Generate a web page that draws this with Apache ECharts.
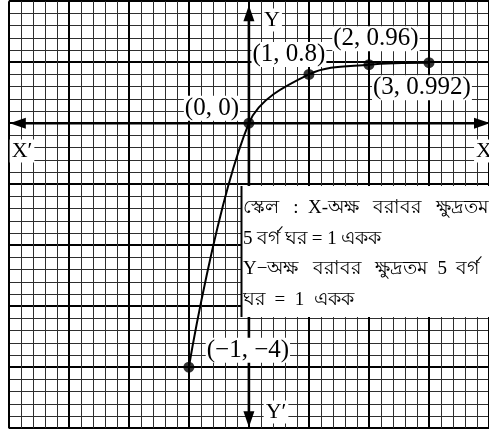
<!DOCTYPE html>
<html>
<head>
<meta charset="utf-8">
<script src="https://cdn.jsdelivr.net/npm/echarts@6/dist/echarts.min.js"></script>
<style>
  html, body { margin: 0; padding: 0; background: #fff; }
  #chart { width: 489px; height: 432px; }
</style>
</head>
<body>
<div id="chart"></div>
<script>
// Points of the curve y = f(x)
const xValues = [-1, 0, 1, 2, 3];
const yValues = [-4, 0, 0.8, 0.96, 0.992];

// Extent of the graph paper in axis units
const xRange = [-4, 4];
const yRange = [-5, 2];

// Axis names
const axisNames = ['X′', 'X', 'Y', 'Y′'];

// Scale note
const scaleLines = [
  'স্কেল   :  X-অক্ষ   বরাবর   ক্ষুদ্রতম',
  '5 বর্গ ঘর = 1 একক',
  'Y−অক্ষ   বরাবর   ক্ষুদ্রতম  5  বর্গ',
  'ঘর  =  1  একক'
];

const SERIF = "'Liberation Serif', 'DejaVu Serif', 'Noto Sans', serif";

// label offsets (px) around each point, same order as xValues
const labelOffsets = [[59, -17], [-37, -15], [-20, -20], [7, -26], [-7, 25]];

const fmt = v => String(v).replace('-', '−');

const chart = echarts.init(document.getElementById('chart'), null, { renderer: 'canvas' });

const pointData = xValues.map((x, i) => ({
  value: [x, yValues[i]],
  label: { offset: labelOffsets[i] }
}));

const paperAxis = {
  type: 'value',
  interval: 1,
  axisLine: { show: false },
  axisTick: { show: false },
  axisLabel: { show: false },
  splitLine: { show: true, lineStyle: { color: '#000', width: 2 } },
  minorTick: { show: false, splitNumber: 5 },
  minorSplitLine: { show: true, lineStyle: { color: '#2e2e2e', width: 1 } }
};

const option = {
  backgroundColor: '#fff',
  animation: false,
  grid: { left: 8.8, right: -7.8, top: 1.2, bottom: 3.8, containLabel: false },
  xAxis: Object.assign({}, paperAxis, { min: xRange[0], max: xRange[1] }),
  yAxis: Object.assign({}, paperAxis, { min: yRange[0], max: yRange[1] }),
  series: [
    {
      // coordinate axes with arrows
      type: 'custom',
      z: 3,
      silent: true,
      clip: false,
      data: [[0, 0]],
      renderItem: function (params, api) {
        const o = api.coord([0, 0]);
        const left = api.coord([xRange[0], 0])[0] + 1;
        const right = api.getWidth() + 1;
        const top = api.coord([0, yRange[1]])[1] + 4;
        const bottom = api.coord([0, yRange[0]])[1] - 1;
        const style = { stroke: '#000', lineWidth: 2.6 };
        const L = 16, W = 5.5;
        return {
          type: 'group',
          children: [
            { type: 'line', shape: { x1: left + 8, y1: o[1], x2: right - 8, y2: o[1] }, style },
            { type: 'line', shape: { x1: o[0], y1: top + 8, x2: o[0], y2: bottom - 8 }, style },
            { type: 'polygon', shape: { points: [[left, o[1]], [left + L, o[1] - W], [left + L, o[1] + W]] }, style: { fill: '#000' } },
            { type: 'polygon', shape: { points: [[right, o[1]], [right - L, o[1] - W], [right - L, o[1] + W]] }, style: { fill: '#000' } },
            { type: 'polygon', shape: { points: [[o[0], top], [o[0] - W, top + L], [o[0] + W, top + L]] }, style: { fill: '#000' } },
            { type: 'polygon', shape: { points: [[o[0], bottom], [o[0] - W, bottom - L], [o[0] + W, bottom - L]] }, style: { fill: '#000' } }
          ]
        };
      }
    },
    {
      type: 'line',
      z: 4,
      smooth: 0.35,
      showSymbol: false,
      silent: true,
      data: xValues.map((x, i) => [x, yValues[i]]),
      lineStyle: { color: '#000', width: 2 }
    },
    {
      type: 'scatter',
      z: 5,
      silent: true,
      symbol: 'circle',
      symbolSize: 11,
      itemStyle: { color: '#000' },
      data: pointData,
      label: {
        show: true,
        position: 'inside',
        align: 'center',
        verticalAlign: 'middle',
        formatter: p => '(' + fmt(p.value[0]) + ', ' + fmt(p.value[1]) + ')',
        fontFamily: SERIF,
        fontSize: 25,
        color: '#000',
        opacity: 1,
        textBorderWidth: 0,
        textShadowBlur: 0,
        backgroundColor: '#fff',
        padding: [0, 1, 0, 1]
      }
    }
  ],
  graphic: [
    // scale note panel
    {
      type: 'rect', z: 50, silent: true,
      shape: { x: 242, y: 186, width: 260, height: 131 },
      style: { fill: '#fff' }
    },
    {
      type: 'line', z: 51, silent: true,
      shape: { x1: 241.5, y1: 186, x2: 241.5, y2: 317 },
      style: { stroke: '#000', lineWidth: 2 }
    }
  ].concat(scaleLines.map((t, i) => ({
    type: 'text', z: 52, silent: true,
    x: 243, y: 208 + i * 30.7,
    style: { text: t, font: '19px ' + SERIF, fill: '#000', verticalAlign: 'middle', textAlign: 'left' }
  }))).concat([
    { pos: [22, 151], text: axisNames[0] },
    { pos: [484, 151], text: axisNames[1] },
    { pos: [272, 20], text: axisNames[2] },
    { pos: [276, 412], text: axisNames[3] }
  ].map(a => ({
    type: 'text', z: 52, silent: true,
    x: a.pos[0], y: a.pos[1],
    style: {
      text: a.text, font: '22px ' + SERIF, fill: '#000',
      textAlign: 'center', verticalAlign: 'middle',
      backgroundColor: '#fff', padding: [1, 2, 0, 2]
    }
  })))
};

chart.setOption(option);
</script>
</body>
</html>
